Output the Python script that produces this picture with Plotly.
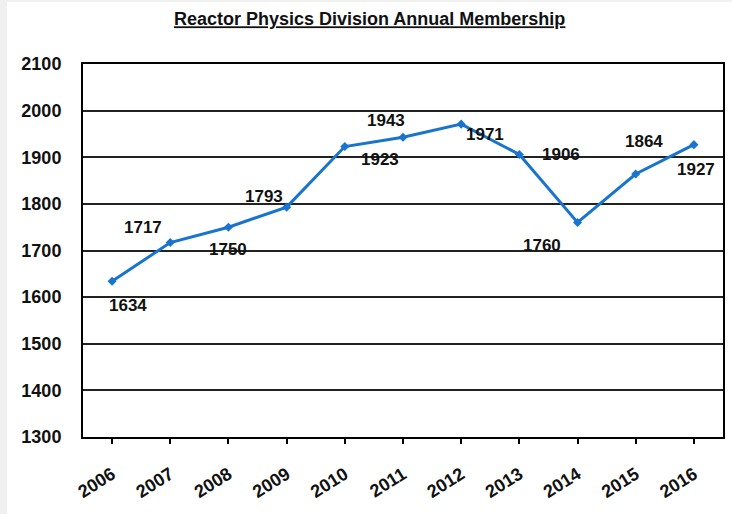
import plotly.graph_objects as go

years = ["2006", "2007", "2008", "2009", "2010", "2011", "2012", "2013", "2014", "2015", "2016"]
members = [1634, 1717, 1750, 1793, 1923, 1943, 1971, 1906, 1760, 1864, 1927]
y_ticks = [1300, 1400, 1500, 1600, 1700, 1800, 1900, 2000, 2100]

# label offsets (pixels) for each data label
label_dx = [16, -27, 0, -23, 35, -17, 24, 42, -36, 8, 2]
label_dy = [-24, 15, -22, 11, -13, 17, -10, 0, -23, 33, -25]

FONT = "Liberation Sans, Arial, sans-serif"
BLUE = "#1874CD"

fig = go.Figure()
fig.add_trace(go.Scatter(
    x=years, y=members, mode="lines+markers",
    line=dict(color=BLUE, width=3),
    marker=dict(symbol="diamond", size=7, color=BLUE),
    showlegend=False, hoverinfo="x+y",
))

for i, (y, dx, dy) in enumerate(zip(members, label_dx, label_dy)):
    fig.add_annotation(x=i, y=y, xref="x", yref="y", text=f"<b>{y}</b>", showarrow=False,
                       xshift=dx, yshift=dy,
                       font=dict(family=FONT, size=17, color="#111111"))

fig.update_layout(
    width=732, height=514,
    margin=dict(l=83, r=7, t=64, b=77),
    paper_bgcolor="white", plot_bgcolor="white",
    title=dict(text="<b>Reactor Physics Division Annual Membership</b>",
               x=0.505, xanchor="center", y=1 - 19 / 514, yanchor="middle",
               font=dict(family=FONT, size=18, color="#111111", lineposition="under")),
    xaxis=dict(
        type="category", range=[-0.5, 10.5],
        showgrid=False, showline=True, mirror=True, linecolor="black", linewidth=2,
        ticks="outside", ticklen=5, tickwidth=1.5, tickcolor="black",
        tickangle=-32, ticklabelstandoff=13,
        tickfont=dict(family=FONT, size=18, color="#111111", weight="bold"),
    ),
    yaxis=dict(
        range=[1300, 2100], tickvals=y_ticks, ticktext=[f"<b>{v}</b>" for v in y_ticks],
        showgrid=True, gridcolor="#222222", gridwidth=1.5,
        showline=True, mirror=True, linecolor="black", linewidth=2,
        ticks="", ticklabelstandoff=16, zeroline=False,
        tickfont=dict(family=FONT, size=18, color="#111111"),
    ),
    shapes=[
        dict(type="rect", xref="paper", yref="paper", xsizemode="pixel", xanchor=0,
             x0=-83, x1=-76, y0=-0.3, y1=1.3, fillcolor="#f0f0f0", line=dict(width=0),
             layer="below"),
        dict(type="rect", xref="paper", yref="paper", ysizemode="pixel", yanchor=1,
             y0=62, y1=64, x0=-0.2, x1=1.1, fillcolor="#f0f0f0", line=dict(width=0),
             layer="below"),
    ],
)

fig.write_html("out.html", config={"displayModeBar": False},
               post_script="document.body.style.margin='0';document.body.style.overflow='hidden';")
